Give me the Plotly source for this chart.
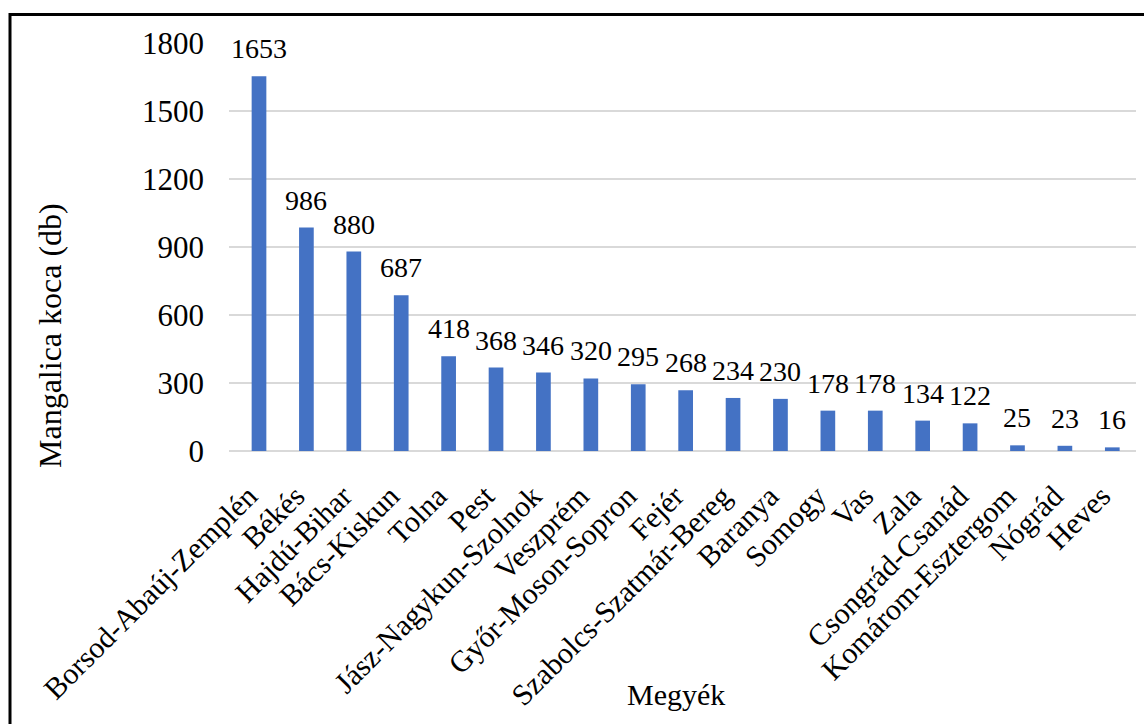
import plotly.graph_objects as go

megyek = ["Borsod-Abaúj-Zemplén", "Békés", "Hajdú-Bihar", "Bács-Kiskun", "Tolna", "Pest",
          "Jász-Nagykun-Szolnok", "Veszprém", "Győr-Moson-Sopron", "Fejér",
          "Szabolcs-Szatmár-Bereg", "Baranya", "Somogy", "Vas", "Zala", "Csongrád-Csanád",
          "Komárom-Esztergom", "Nógrád", "Heves"]
koca = [1653, 986, 880, 687, 418, 368, 346, 320, 295, 268, 234, 230, 178, 178, 134, 122, 25, 23, 16]
y_ticks = [0, 300, 600, 900, 1200, 1500, 1800]

FONT = "'Liberation Serif', 'Times New Roman', Times, serif"

fig = go.Figure()
fig.add_trace(go.Bar(x=megyek, y=koca, marker=dict(color="#4472C4", line=dict(width=0)),
                     hoverinfo="x+y"))

for m, v in zip(megyek, koca):
    fig.add_annotation(x=m, y=v, text=str(v), showarrow=False, yanchor="bottom",
                       xanchor="center", yshift=10,
                       font=dict(family=FONT, size=28, color="#000000"))

# axis titles
fig.add_annotation(xref="paper", yref="paper", x=(50 - 229) / 907, y=(451 - 336) / 408,
                   text="Mangalica koca (db)", textangle=-90, showarrow=False,
                   xanchor="center", yanchor="middle",
                   font=dict(family=FONT, size=32, color="#000000"))
fig.add_annotation(xref="paper", yref="paper", x=(676 - 229) / 907, y=(451 - 694) / 408,
                   text="Megyék", showarrow=False, xanchor="center", yanchor="middle",
                   font=dict(family=FONT, size=30, color="#000000"))

fig.update_layout(
    width=1144, height=724,
    margin=dict(l=229, r=8, t=43, b=273),
    paper_bgcolor="white", plot_bgcolor="white",
    bargap=0.69,
    showlegend=False,
    font=dict(family=FONT, size=28, color="#000000"),
    xaxis=dict(tickangle=-45, tickfont=dict(family=FONT, size=30, color="#000000"),
               tickmode="array", tickvals=megyek,
               ticktext=[m + "\u00a0\u00a0" for m in megyek],
               showgrid=False, showline=False, ticks="", ticklabelstandoff=10),
    yaxis=dict(range=[0, 1800], tickvals=y_ticks, ticktext=[str(t) for t in y_ticks],
               showgrid=True, gridcolor="#D9D9D9", gridwidth=2,
               zeroline=True, zerolinecolor="#D9D9D9", zerolinewidth=2,
               showline=False, ticks="", ticklabelstandoff=24,
               tickfont=dict(family=FONT, size=31, color="#000000")),
    shapes=[dict(type="rect", xref="paper", yref="paper",
                 x0=(10 - 229) / 907, x1=1.2, y0=-1.0, y1=(451 - 14.5) / 408,
                 line=dict(color="black", width=3), fillcolor="rgba(0,0,0,0)", layer="above")],
)

fig.write_html("out.html")
